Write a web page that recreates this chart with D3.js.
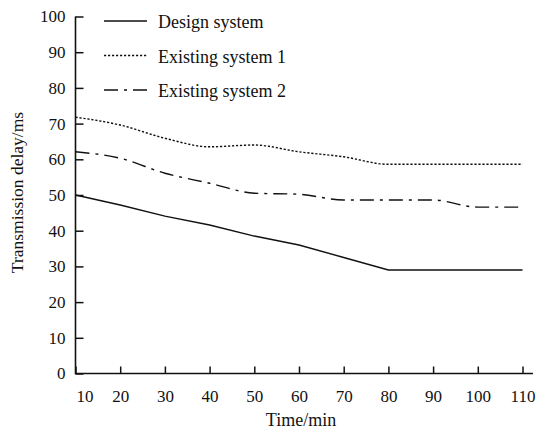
<!DOCTYPE html>
<html>
<head>
<meta charset="utf-8">
<script src="https://cdn.jsdelivr.net/npm/d3@7"></script>
<style>
  body { margin: 0; background: #fff; }
  svg text { font-family: "Liberation Serif", "Times New Roman", serif; fill: #111; }
</style>
</head>
<body>
<script>
// values
const times = [10, 20, 30, 40, 50, 60, 70, 80, 90, 100, 110];
const designSystem = [50.0, 47.2, 44.1, 41.6, 38.5, 36.0, 32.5, 29.0, 29.0, 29.0, 29.0];
const existingSystem1 = [71.8, 69.6, 65.9, 63.5, 64.0, 62.1, 60.7, 58.6, 58.6, 58.6, 58.6];
const existingSystem2 = [62.1, 60.3, 56.1, 53.3, 50.5, 50.2, 48.6, 48.6, 48.6, 46.6, 46.6];
const yTicks = [0, 10, 20, 30, 40, 50, 60, 70, 80, 90, 100];
const seriesNames = ["Design system", "Existing system 1", "Existing system 2"];

const width = 536;
const height = 429;
const margin = { top: 16.5, right: 13, bottom: 55.5, left: 75.5 };
const serif = "Liberation Serif";

const svg = d3.select("body")
    .append("svg")
    .attr("width", width)
    .attr("height", height)
    .attr("font-family", serif);

const x = d3.scaleLinear()
    .domain([10, 110])
    .range([margin.left, width - margin.right - 0.5]);

const y = d3.scaleLinear()
    .domain([0, 100])
    .range([height - margin.bottom, margin.top]);

const series = [
    { name: seriesNames[0], values: designSystem, dash: null, curve: d3.curveLinear },
    { name: seriesNames[1], values: existingSystem1, dash: "2.2,1.8", curve: d3.curveMonotoneX },
    { name: seriesNames[2], values: existingSystem2, dash: "14,6,3,6", curve: d3.curveMonotoneX }
];

// axes
const xAxis = d3.axisBottom(x).tickValues(times).tickSize(-7).tickSizeOuter(0).tickPadding(12);
const yAxis = d3.axisLeft(y).tickValues(yTicks).tickSize(-8).tickSizeOuter(0).tickPadding(10);

const gx = svg.append("g")
    .attr("transform", `translate(0, ${y(0)})`)
    .call(xAxis)
    .attr("font-family", serif)
    .attr("font-size", 17);
gx.select(".domain").remove();
gx.selectAll(".tick line").attr("stroke", "#111").attr("stroke-width", 1.5);
gx.selectAll(".tick text")
    .attr("dy", "0.95em")
    .attr("dx", d => d === 10 ? 9 : 0);

const gy = svg.append("g")
    .attr("transform", `translate(${x(10)}, 0)`)
    .call(yAxis)
    .attr("font-family", serif)
    .attr("font-size", 17);
gy.select(".domain").remove();
gy.selectAll(".tick line").attr("stroke", "#111").attr("stroke-width", 1.5);

// axis lines (x line runs a bit past the last tick, like the original)
svg.append("line")
    .attr("x1", x(10)).attr("x2", width - 3)
    .attr("y1", y(0)).attr("y2", y(0))
    .attr("stroke", "#111").attr("stroke-width", 1.6);
svg.append("line")
    .attr("x1", x(10)).attr("x2", x(10))
    .attr("y1", y(0) + 0.8).attr("y2", y(100))
    .attr("stroke", "#111").attr("stroke-width", 1.6);

// lines
series.forEach(s => {
    const line = d3.line()
        .x((d, i) => x(times[i]))
        .y(d => y(d))
        .curve(s.curve);
    svg.append("path")
        .datum(s.values)
        .attr("fill", "none")
        .attr("stroke", "#111")
        .attr("stroke-width", 1.4)
        .attr("stroke-dasharray", s.dash)
        .attr("d", line);
});

// legend
const legend = svg.append("g").attr("transform", "translate(104, 21)");
series.forEach((s, i) => {
    const row = legend.append("g").attr("transform", `translate(0, ${i * 34.5})`);
    row.append("line")
        .attr("x1", 0).attr("x2", 43)
        .attr("y1", 0).attr("y2", 0)
        .attr("stroke", "#111")
        .attr("stroke-width", 1.4)
        .attr("stroke-dasharray", s.dash);
    row.append("text")
        .attr("x", 54)
        .attr("y", 7)
        .attr("font-size", 18)
        .text(s.name);
});

// axis titles
svg.append("text")
    .attr("x", 301)
    .attr("y", 426)
    .attr("text-anchor", "middle")
    .attr("font-size", 18)
    .text("Time/min");

svg.append("text")
    .attr("transform", "translate(23, 192.5) rotate(-90)")
    .attr("text-anchor", "middle")
    .attr("font-size", 17.5)
    .text("Transmission delay/ms");
</script>
</body>
</html>
